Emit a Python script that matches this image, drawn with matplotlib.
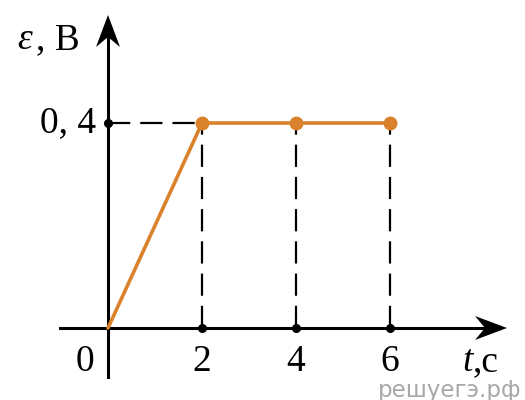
import matplotlib
matplotlib.use("Agg")
import matplotlib.pyplot as plt
from matplotlib.patches import Polygon

# data
t_line = [0, 2, 4, 6]
emf_line = [0, 0.4, 0.4, 0.4]
t_dots = [2, 4, 6]
emf_dots = [0.4, 0.4, 0.4]
x_ticks = [2, 4, 6]
y_level = 0.4

ORANGE = "#D9822B"
SERIF = "Liberation Serif"

# pixel scale of the reference: 47 px per second, 205 px per 0.4 V
PX_X = 47.0
PX_Y = 205.0 / 0.4

fig = plt.figure(figsize=(5.25, 4.0), dpi=100)
ax = fig.add_axes([0, 0, 1, 1])
ax.set_xlim(-108 / PX_X, (525 - 108) / PX_X)
ax.set_ylim(-(400 - 328) / PX_Y, 328 / PX_Y)
ax.axis("off")


def arrow_head(tip, direction, length=32, width=24, notch=10):
    """Concave arrow head, sizes in pixels, tip in data coords."""
    tx, ty = tip
    if direction == "right":
        pts = [(0, 0), (-length, width / 2), (-length + notch, 0), (-length, -width / 2)]
    else:
        pts = [(0, 0), (width / 2, -length), (0, -length + notch), (-width / 2, -length)]
    xy = [(tx + dx / PX_X, ty + dy / PX_Y) for dx, dy in pts]
    ax.add_patch(Polygon(xy, closed=True, color="black", lw=0, zorder=4))


# axes
x_end = (507 - 108) / PX_X
y_end = (328 - 15) / PX_Y
ax.plot([-48 / PX_X, x_end - 20 / PX_X], [0, 0], color="black", lw=2.2, zorder=3)
ax.plot([0, 0], [-49 / PX_Y, y_end - 20 / PX_Y], color="black", lw=2.2, zorder=3)
arrow_head((x_end, 0), "right")
arrow_head((0, y_end), "up")

# dashed guides
ax.plot([0, t_dots[0]], [y_level, y_level], color="black", lw=1.6, dashes=(10, 4.5), zorder=2)
for xt in x_ticks:
    ax.plot([xt, xt], [0, y_level], color="black", lw=1.6, dashes=(10, 4.5), zorder=2)

# black tick dots
ax.plot(x_ticks, [0] * len(x_ticks), "o", color="black", ms=5.5, zorder=5)
ax.plot([0], [y_level], "o", color="black", ms=5.5, zorder=5)

# graph
ax.plot(t_line, emf_line, color=ORANGE, lw=2.6, zorder=6, solid_capstyle="round")
ax.plot(t_dots, emf_dots, "o", color=ORANGE, ms=9, zorder=7)

# labels
fs = 27
ly = -34 / PX_Y
for xt in x_ticks:
    ax.text(xt, ly, str(xt), family=SERIF, fontsize=fs, ha="center", va="center")
ax.text(-23 / PX_X, ly, "0", family=SERIF, fontsize=fs, ha="center", va="center")
ax.text(-12 / PX_X, y_level, "0, 4", family=SERIF, fontsize=fs, ha="right", va="center")
ax.text(-91 / PX_X, (328 - 40) / PX_Y, "ε", family=SERIF, style="italic", fontsize=fs,
        ha="left", va="center")
ax.text(-72 / PX_X, (328 - 40) / PX_Y, ", B", family=SERIF, fontsize=fs, ha="left", va="center")
ax.text((462 - 108) / PX_X, ly, "t", family=SERIF, style="italic", fontsize=fs,
        ha="left", va="center")
ax.text((473 - 108) / PX_X, ly, ",c", family=SERIF, fontsize=fs, ha="left", va="center")

# watermark
ax.text((521 - 108) / PX_X, -(390 - 328) / PX_Y, "решуегэ.рф", family="DejaVu Sans",
        fontsize=16.5, color="#a8a8a8", ha="right", va="center", zorder=1)

fig.savefig("out.png", dpi=100)
